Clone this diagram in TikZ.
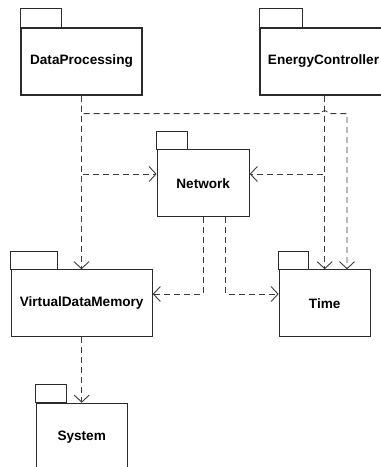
\documentclass[tikz,border=0pt]{standalone}
\usepackage{fontspec}
\setmainfont{Liberation Sans}
\usetikzlibrary{arrows.meta}
\definecolor{boxline}{HTML}{2B2B2B}
\definecolor{depline}{HTML}{3C3C3C}
\tikzset{
  pkg/.style={draw=boxline, line width=1.1pt, fill=white, rectangle, inner sep=0pt,
    minimum height=67pt, font=\fontsize{13.6}{16}\selectfont\bfseries},
  pkgtab/.style={draw=boxline, line width=1.1pt},
  dep/.style={draw=depline, line width=0.9pt, dash pattern=on 6pt off 4pt,
    -{Straight Barb[length=7pt,width=15pt,line width=0.9pt]}}
}
\begin{document}
\begin{tikzpicture}[x=1pt, y=-1pt]
  \clip (0,0) rectangle (381,467);
  \fill[white] (0,0) rectangle (381,467);

  % package bodies
  \node[pkg, minimum width=121pt] (dp)  at (81.5,61.5)   {DataProcessing};
  \node[pkg, minimum width=127pt] (ec)  at (323.5,61.5)  {EnergyController};
  \node[pkg, minimum width=92pt]  (net) at (203.2,183.3) {Network};
  \node[pkg, minimum width=141pt] (vdm) at (81.7,303.3)  {VirtualDataMemory};
  \node[pkg, minimum width=91pt]  (tm)  at (324.7,303.3) {Time};
  \node[pkg, minimum width=91pt]  (sys) at (81.7,436.8)  {System};

  % package tabs
  \draw[pkgtab] (dp.north west)  rectangle ++(41,-19);
  \draw[pkgtab] (ec.north west)  rectangle ++(43,-19);
  \draw[pkgtab] (net.north west) rectangle ++(30.5,-18);
  \draw[pkgtab] (vdm.north west) rectangle ++(47,-18);
  \draw[pkgtab] (tm.north west)  rectangle ++(30,-18);
  \draw[pkgtab] (sys.north west) rectangle ++(31,-18);

  % crossing point of the long DataProcessing line with the EnergyController line
  \coordinate (hop) at ([yshift=-18pt]tm.north |- ec.south);

  % dependencies
  \draw[dep] (dp.south) -- (dp.south |- vdm.north);
  \draw[dep] (dp.south) |- ([yshift=9.3pt]net.west);
  \draw[dep] (dp.south) |- ([xshift=-3pt]hop)
    arc[start angle=180, end angle=360, radius=3]
    -| ([xshift=22.3pt]tm.north);
  \draw[dep] (tm.north |- ec.south) -- (tm.north);
  \draw[dep] (tm.north |- ec.south) |- ([yshift=9.3pt]net.east);
  \draw[dep] (net.south) |- ([yshift=9.3pt]vdm.east);
  \draw[dep] ([xshift=22.5pt]net.south) |- ([yshift=9.3pt]tm.west);
  \draw[dep] (vdm.south) -- (sys.north);
\end{tikzpicture}
\end{document}
